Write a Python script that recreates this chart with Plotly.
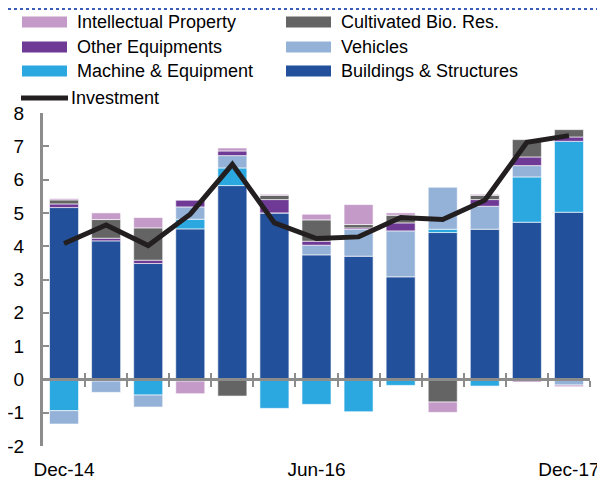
import plotly.graph_objects as go

# quarterly contributions (pp)
quarters = ['Dec-14', 'Mar-15', 'Jun-15', 'Sep-15', 'Dec-15', 'Mar-16', 'Jun-16',
            'Sep-16', 'Dec-16', 'Mar-17', 'Jun-17', 'Sep-17', 'Dec-17']
buildings = [5.16, 4.16, 3.48, 4.52, 5.82, 5.00, 3.74, 3.70, 3.08, 4.41, 4.51, 4.72, 5.02]
machine = [-0.94, -0.05, -0.47, 0.29, 0.53, -0.87, -0.75, -0.97, -0.18, 0.10, -0.20, 1.36, 2.13]
vehicles = [-0.40, -0.34, -0.36, 0.37, 0.37, 0.0, 0.29, 0.81, 1.38, 1.27, 0.69, 0.34, -0.17]
other_eq = [0.11, 0.08, 0.10, 0.20, 0.14, 0.40, 0.12, 0.04, 0.24, 0.0, 0.20, 0.26, 0.13]
cultivated = [0.12, 0.56, 0.97, -0.05, -0.50, 0.13, 0.64, 0.10, 0.23, -0.68, 0.13, 0.52, 0.22]
intellectual = [0.04, 0.20, 0.31, -0.38, 0.09, 0.03, 0.17, 0.60, 0.07, -0.31, 0.03, -0.08, -0.05]
investment = [4.08, 4.64, 4.02, 4.96, 6.46, 4.70, 4.23, 4.28, 4.86, 4.80, 5.38, 7.12, 7.32]

label_ticks = ['Dec-14', 'Jun-16', 'Dec-17']
y_ticks = [-2, -1, 0, 1, 2, 3, 4, 5, 6, 7, 8]
y_ticktext = ['-2', '-1', '0', '1', '2', '3', '4', '5', '6', '7', '8']

series = [
    ('Buildings & Structures', buildings, '#22509b'),
    ('Machine & Equipment', machine, '#2ca8e0'),
    ('Vehicles', vehicles, '#94b2d7'),
    ('Other Equipments', other_eq, '#6f3a96'),
    ('Cultivated Bio. Res.', cultivated, '#646464'),
    ('Intellectual Property', intellectual, '#c49ac8'),
]
colors = {name: c for name, _, c in series}

FONT = 'Liberation Sans, Arial, sans-serif'
xs = list(range(len(quarters)))

fig = go.Figure()
for name, vals, col in series:
    fig.add_trace(go.Bar(x=xs, y=vals, name=name, marker_color=col,
                         marker_line=dict(color='rgba(255,255,255,0.6)', width=1),
                         width=0.69, showlegend=False))

fig.add_trace(go.Scatter(x=xs, y=investment, mode='lines', name='Investment',
                         line=dict(color='#231f20', width=5), showlegend=False))

# invisible helpers so the zero-line axes get drawn
for ax in ['x2', 'x3']:
    fig.add_trace(go.Scatter(x=xs, y=investment, xaxis=ax, mode='lines', opacity=0,
                             hoverinfo='skip', showlegend=False))

# the page body has an 8px margin, so work in page pixels and shift back
OFF = 8
FIG_W, FIG_H = 605 - OFF, 480 - OFF
L, R, T, B = 43 - OFF, 590 - OFF, 113 - OFF, 446 - OFF
W, H = R - L, B - T


def px(x):
    return (x - OFF - L) / W


def py(y):
    return (B - (y - OFF)) / H


shapes = []
annotations = []

# legend drawn by hand: wide swatches in two columns
legend_rows = [
    ('Intellectual Property', 'Cultivated Bio. Res.'),
    ('Other Equipments', 'Vehicles'),
    ('Machine & Equipment', 'Buildings & Structures'),
]
row_y = [22, 47, 71]
for (left, right), yc in zip(legend_rows, row_y):
    for name, x0 in [(left, 22), (right, 286)]:
        shapes.append(dict(type='rect', xref='paper', yref='paper',
                           x0=px(x0), x1=px(x0 + 45), y0=py(yc + 5.5), y1=py(yc - 5.5),
                           fillcolor=colors[name], line_width=0))
        annotations.append(dict(xref='paper', yref='paper', x=px(x0 + 53), y=py(yc),
                                text=name, showarrow=False, xanchor='left', yanchor='middle',
                                font=dict(size=18, color='black', family=FONT)))
shapes.append(dict(type='line', xref='paper', yref='paper', x0=px(21), x1=px(68),
                   y0=py(98), y1=py(98), line=dict(color='#231f20', width=5)))
annotations.append(dict(xref='paper', yref='paper', x=px(69), y=py(98), text='Investment',
                        showarrow=False, xanchor='left', yanchor='middle',
                        font=dict(size=18, color='black', family=FONT)))

# dotted rule left over from the page header
shapes.append(dict(type='line', xref='paper', yref='paper', x0=px(OFF), x1=px(605),
                   y0=py(OFF + 1), y1=py(OFF + 1),
                   line=dict(color='#3a5db5', width=2, dash='dot')))

axis_gray = '#8c8c8c'
bounds = [i + 0.5 for i in range(len(quarters))]
zero_pos = (0 - (-2)) / (8 - (-2))

fig.update_layout(
    width=FIG_W, height=FIG_H,
    margin=dict(l=L, r=FIG_W - R, t=T, b=FIG_H - B),
    paper_bgcolor='white', plot_bgcolor='white',
    barmode='relative', bargap=0.31,
    font=dict(family=FONT, color='black'),
    showlegend=False,
    shapes=shapes, annotations=annotations,
    xaxis=dict(range=[-0.5, 12.5], tickmode='array',
               tickvals=[quarters.index(q) for q in label_ticks], ticktext=label_ticks,
               showline=False, ticks='', showgrid=False, zeroline=False,
               tickfont=dict(size=19), ticklabelstandoff=10, automargin=False),
    xaxis2=dict(overlaying='x', matches='x', anchor='free', position=zero_pos,
                showline=True, linecolor=axis_gray, linewidth=3,
                tickmode='array', tickvals=bounds, ticks='outside', ticklen=6,
                tickwidth=2, tickcolor=axis_gray, showticklabels=False,
                showgrid=False, zeroline=False, automargin=False),
    xaxis3=dict(overlaying='x', matches='x', anchor='free', position=zero_pos,
                showline=False, tickmode='array', tickvals=bounds, ticks='inside',
                ticklen=6, tickwidth=2, tickcolor=axis_gray, showticklabels=False,
                showgrid=False, zeroline=False, automargin=False),
    yaxis=dict(range=[-2, 8], tickmode='array', tickvals=y_ticks, ticktext=y_ticktext,
               showline=True, linecolor=axis_gray, linewidth=3,
               ticks='inside', ticklen=6, tickwidth=2, tickcolor=axis_gray,
               showgrid=False, zeroline=False, tickfont=dict(size=19),
               ticklabelstandoff=12, automargin=False),
)

fig.write_html("out.html")
